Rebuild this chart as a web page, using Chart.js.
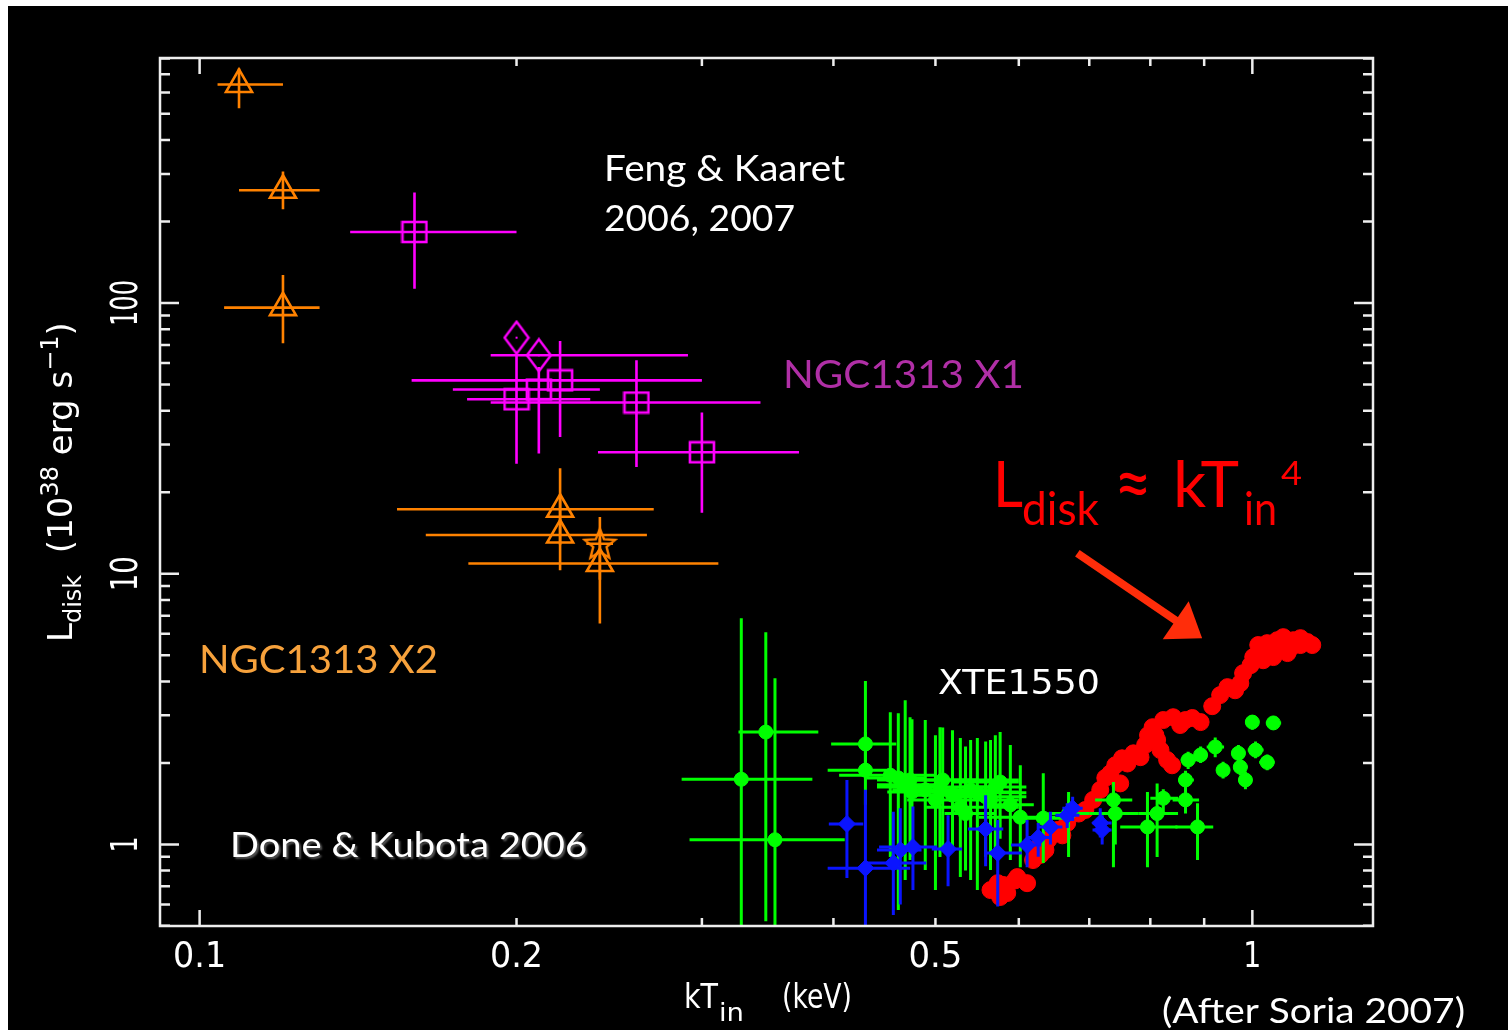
<!DOCTYPE html>
<html>
<head>
<meta charset="utf-8">
<script src="https://cdn.jsdelivr.net/npm/chart.js@4.4.1/dist/chart.umd.min.js"></script>
<style>
  html, body { margin: 0; padding: 0; background: #fff; }
  canvas { display: block; }
</style>
</head>
<body>
<canvas id="diskChart" width="1508" height="1030"></canvas>
<script>
// ---- NGC1313 X2 (orange triangles) : kT_in (keV), L_disk (1e38 erg/s) ----
const x2Kt   = [0.109, 0.120, 0.120, 0.220, 0.220, 0.240];
const x2KtLo = [0.104, 0.109, 0.1055, 0.154, 0.164, 0.180];
const x2KtHi = [0.120, 0.130, 0.130, 0.270, 0.266, 0.311];
const x2L    = [642, 261, 96.2, 17.3, 13.9, 10.9];
const x2LLo  = [524, 222, 71, 12.8, 10.3, 6.55];
const x2LHi  = [736, 306, 127, 24.5, 19.5, 13.5];
// the one star point
const x2sKt = [0.240], x2sKtLo = [0.233], x2sKtHi = [0.247];
const x2sL = [12.9], x2sLLo = [9.5], x2sLHi = [16.2];

// ---- NGC1313 X1 (magenta squares + diamonds) ----
const x1Kt   = [0.160, 0.200, 0.210, 0.220, 0.260, 0.300];
const x1KtLo = [0.139, 0.1795, 0.174, 0.159, 0.189, 0.239];
const x1KtHi = [0.200, 0.235, 0.240, 0.300, 0.341, 0.371];
const x1L    = [183, 44.1, 47.9, 51.8, 42.9, 28.1];
const x1LLo  = [113, 25.5, 27.8, 32.0, 24.8, 16.8];
const x1LHi  = [256, 65.0, 58.0, 72.4, 61.4, 39.4];
const x1dKt = [0.200, 0.210], x1dKtLo = [0.200, 0.189], x1dKtHi = [0.200, 0.291];
const x1dL = [74.5, 64.1];

// ---- XTE1550 (green) ----
const gKt   = [0.327,0.345,0.352,0.429,0.429,0.453,0.461,0.473,0.475,0.505,0.508,0.528,0.534,0.548,0.558,0.570,0.576,0.602,0.633,0.669,0.738,0.741,0.795,0.812,0.823,0.864,0.887,0.864,0.869,0.893,0.922,0.938,0.970,0.974,0.985,1.007,1.033,1.000,1.047,0.468,0.489,0.500,0.519,0.540,0.564,0.589];
const gKtLo = [0.287,0.325,0.292,0.398,0.395,0.405,0.430,0.440,0.450,0.440,0.470,0.490,0.510,0.500,0.520,0.530,0.520,0.550,0.600,0.640,0.709,0.700,0.749,0.780,0.800,0.840,0.845,0.850,0.855,0.880,0.905,0.925,0.955,0.960,0.970,0.990,1.015,0.985,1.030,0.440,0.455,0.470,0.480,0.505,0.525,0.555];
const gKtHi = [0.382,0.387,0.410,0.459,0.456,0.500,0.490,0.550,0.600,0.580,0.600,0.600,0.570,0.610,0.610,0.610,0.600,0.650,0.670,0.700,0.769,0.780,0.849,0.850,0.850,0.890,0.918,0.880,0.885,0.905,0.940,0.952,0.985,0.990,1.000,1.025,1.050,1.015,1.065,0.500,0.525,0.535,0.560,0.580,0.600,0.620];
const gL    = [1.74,2.60,1.04,2.35,1.88,1.80,1.76,1.73,1.56,1.63,1.73,1.37,1.30,1.55,1.50,1.63,1.70,1.26,1.25,1.30,1.46,1.30,1.16,1.30,1.48,1.46,1.16,1.73,2.05,2.14,2.29,1.88,2.17,1.93,1.73,2.23,2.01,2.83,2.81,1.66,1.59,1.46,1.52,1.59,1.46,1.40];
const gLLo  = [0.40,0.52,0.40,1.90,1.40,0.898,0.572,0.875,0.90,0.898,0.95,0.757,0.80,0.678,0.90,0.953,1.05,0.824,0.853,0.898,0.824,1.00,0.824,0.898,1.30,1.30,0.875,1.60,1.90,2.00,2.10,1.75,2.00,1.80,1.60,2.08,1.88,2.65,2.65,0.738,0.804,0.678,0.953,0.738,0.804,0.875];
const gLHi  = [6.85,6.08,4.11,4.01,2.60,3.08,3.05,2.95,2.90,2.71,2.70,2.47,2.30,2.47,2.40,2.53,2.60,1.96,1.83,1.56,1.70,1.45,1.56,1.68,1.60,1.73,1.42,1.87,2.20,2.30,2.48,2.02,2.33,2.06,1.86,2.40,2.15,3.00,2.98,3.41,2.88,2.53,2.64,2.43,2.43,2.33];

// ---- XTE1550 (blue) ----
const bKt   = [0.412,0.429,0.456,0.463,0.476,0.514,0.558,0.573,0.611,0.626,0.643,0.667,0.675,0.717,0.720];
const bKtLo = [0.396,0.395,0.430,0.440,0.442,0.496,0.537,0.556,0.590,0.610,0.625,0.650,0.660,0.705,0.705];
const bKtHi = [0.427,0.473,0.490,0.485,0.502,0.530,0.580,0.604,0.630,0.642,0.660,0.685,0.690,0.735,0.735];
const bL    = [1.19,0.817,0.853,0.953,0.977,0.961,1.14,0.929,0.994,1.06,1.16,1.28,1.36,1.20,1.13];
const bLLo  = [0.751,0.45,0.548,0.60,0.678,0.70,0.83,0.59,0.824,0.90,1.00,1.15,1.22,1.06,1.00];
const bLHi  = [1.73,1.59,1.32,1.36,1.38,1.28,1.52,1.23,1.23,1.20,1.32,1.42,1.50,1.36,1.28];

// ---- XTE1550 (red) ----
const rKt = [0.564,0.573,0.576,0.585,0.598,0.595,0.611,0.619,0.625,0.629,0.640,0.653,0.667,0.684,0.694,0.706,0.717,0.725,0.733,0.741,0.749,0.752,0.761,0.771,0.783,0.791,0.796,0.804,0.812,0.818,0.830,0.839,0.823,0.841,0.864,0.893,0.916,0.947,0.963,0.974,0.980,0.996,1.002,1.018,1.024,1.033,1.047,1.056,1.070,1.080,1.094,1.111,1.128,1.140,1.013,1.087,1.040,1.111,1.063,0.854,0.877,0.809,0.932,0.580,0.636,0.660];
const rL  = [0.678,0.719,0.639,0.661,0.757,0.736,0.719,0.875,0.969,0.914,1.04,1.13,1.20,1.30,1.34,1.46,1.59,1.76,1.83,1.96,1.68,2.08,1.99,2.17,2.10,2.33,2.53,2.71,2.43,2.23,2.05,1.96,2.88,2.95,2.88,2.83,3.24,3.81,3.71,3.94,4.29,4.59,4.92,5.22,4.79,5.54,4.92,5.68,5.83,5.09,5.68,5.78,5.59,5.45,5.45,5.31,5.13,5.45,5.22,2.76,2.93,2.53,3.56,0.708,0.953,1.08];

// axes
const xTickVals = [0.1, 0.2, 0.5, 1];
const xTickLabels = ['0.1', '0.2', '0.5', '1'];
const yTickVals = [1, 10, 100];
const yTickLabels = ['1', '10', '100'];

// arrow (kT, L) from -> to
const arrowKt = [0.682, 0.896];
const arrowL = [11.9, 5.77];

const ORANGE = '#ff8200', MAGENTA = '#ff00ff', GREEN = '#00ff00', BLUE = '#0a14ff', RED = '#ff0000';

function pts(kt, lo, hi, L, Llo, Lhi) {
    return kt.map((v, i) => ({ x: v, y: L[i], xl: lo ? lo[i] : v, xh: hi ? hi[i] : v, yl: Llo ? Llo[i] : L[i], yh: Lhi ? Lhi[i] : L[i] }));
}

function marker(w, h, draw) {
    const c = document.createElement('canvas');
    c.width = w; c.height = h;
    const g = c.getContext('2d');
    draw(g, w, h);
    return c;
}

const squareImg = marker(28, 24, (g, w, h) => {
    g.strokeStyle = MAGENTA; g.lineWidth = 2.6;
    g.strokeRect(2, 2, w - 4, h - 4);
});
const diamondImg = marker(28, 36, (g, w, h) => {
    g.strokeStyle = MAGENTA; g.lineWidth = 2.4;
    g.beginPath(); g.moveTo(w / 2, 2); g.lineTo(w - 2, h / 2); g.lineTo(w / 2, h - 2); g.lineTo(2, h / 2); g.closePath(); g.stroke();
    g.fillStyle = MAGENTA; g.fillRect(w / 2 - 1, h / 2 - 1, 2, 2);
});
const starImg = marker(36, 34, (g, w, h) => {
    g.strokeStyle = ORANGE; g.lineWidth = 2.4;
    g.beginPath();
    for (let i = 0; i < 10; i++) {
        const r = i % 2 ? 7 : 16;
        const a = -Math.PI / 2 + i * Math.PI / 5;
        const px = w / 2 + r * Math.cos(a), py = h / 2 + 1 + r * Math.sin(a);
        if (i === 0) g.moveTo(px, py); else g.lineTo(px, py);
    }
    g.closePath(); g.stroke();
});

const errorBars = {
    id: 'errorBars',
    beforeDatasetDraw(chart, args) {
        const ds = chart.data.datasets[args.index];
        if (!ds.errWidth) return;
        const { ctx, chartArea: a, scales: { x, y } } = chart;
        ctx.save();
        ctx.beginPath(); ctx.rect(a.left, a.top, a.right - a.left, a.bottom - a.top); ctx.clip();
        ctx.strokeStyle = ds.errColor; ctx.lineWidth = ds.errWidth;
        ds.data.forEach(p => {
            const px = x.getPixelForValue(p.x), py = y.getPixelForValue(p.y);
            ctx.beginPath();
            if (p.xl !== p.xh) { ctx.moveTo(x.getPixelForValue(p.xl), py); ctx.lineTo(x.getPixelForValue(p.xh), py); }
            if (p.yl !== p.yh) { ctx.moveTo(px, y.getPixelForValue(p.yl)); ctx.lineTo(px, y.getPixelForValue(p.yh)); }
            ctx.stroke();
        });
        ctx.restore();
    }
};

function fitText(ctx, s, x, y, size, family, width, color, rot) {
    ctx.save();
    ctx.font = size + 'px ' + family;
    const w = ctx.measureText(s).width;
    ctx.translate(x, y);
    if (rot) ctx.rotate(rot);
    ctx.scale(width ? width / w : 1, 1);
    ctx.fillStyle = color;
    ctx.textBaseline = 'alphabetic';
    ctx.textAlign = 'left';
    ctx.fillText(s, 0, 0);
    ctx.restore();
    return width || w;
}

const PG = '"DejaVu Sans"';
const CAL = 'Lato, "Open Sans", sans-serif';

const frameAndText = {
    id: 'frameAndText',
    beforeDraw(chart) {
        const ctx = chart.ctx;
        ctx.save();
        ctx.fillStyle = '#ffffff'; ctx.fillRect(0, 0, chart.width, chart.height);
        ctx.fillStyle = '#000000'; ctx.fillRect(8, 6, chart.width - 8, chart.height - 6);
        ctx.restore();
    },
    afterDraw(chart) {
        const { ctx, chartArea: a, scales: { x, y } } = chart;
        ctx.save();
        // frame
        ctx.strokeStyle = '#eeeeee'; ctx.lineWidth = 2.5;
        ctx.strokeRect(a.left, a.top, a.right - a.left, a.bottom - a.top);
        // x ticks
        ctx.beginPath();
        for (let d = 0.1; d <= 1; d *= 10) {
            for (let m = 1; m <= 9; m++) {
                const v = m * d;
                if (v < x.min || v > x.max) continue;
                const p = x.getPixelForValue(v), len = m === 1 ? 16 : 8;
                ctx.moveTo(p, a.bottom); ctx.lineTo(p, a.bottom - len);
                ctx.moveTo(p, a.top); ctx.lineTo(p, a.top + len);
            }
        }
        // y ticks
        for (let d = 0.1; d <= 100; d *= 10) {
            for (let m = 1; m <= 9; m++) {
                const v = m * d;
                if (v < y.min || v >= y.max) continue;
                const p = y.getPixelForValue(v), len = m === 1 ? 19 : 10;
                ctx.moveTo(a.left, p); ctx.lineTo(a.left + len, p);
                ctx.moveTo(a.right, p); ctx.lineTo(a.right - len, p);
            }
        }
        ctx.stroke();

        // tick labels
        const xw = { '0.1': 53, '0.2': 53, '0.5': 54, '1': 18 };
        xTickVals.forEach((v, i) => {
            const s = xTickLabels[i], w = xw[s];
            fitText(ctx, s, x.getPixelForValue(v) - w / 2, 967, 36, PG, w, '#ffffff');
        });
        const yw = { '1': 16, '10': 35, '100': 46 };
        yTickVals.forEach((v, i) => {
            const s = yTickLabels[i], w = yw[s];
            fitText(ctx, s, 137, y.getPixelForValue(v) + w / 2, 37, PG, w, '#ffffff', -Math.PI / 2);
        });

        // axis titles
        fitText(ctx, 'kT', 684, 1008, 34, PG, 34, '#ffffff');
        fitText(ctx, 'in', 719, 1021, 24, PG, 25, '#ffffff');
        fitText(ctx, '(keV)', 782, 1008, 34, PG, 70, '#ffffff');
        const R = -Math.PI / 2;
        let py = 642;
        const seq = [['L', 0, 34], ['disk', 9, 24], ['  (10', 0, 34], ['38', -14, 24], [' erg s', 0, 34], ['\u22121', -14, 24], [')', 0, 34]];
        seq.forEach(([s, dx, sz]) => {
            ctx.font = sz + 'px ' + PG;
            const w = ctx.measureText(s).width;
            fitText(ctx, s, 72 + dx, py, sz, PG, w, '#ffffff', R);
            py -= w;
        });

        // annotations
        fitText(ctx, 'XTE1550', 938, 694, 34, PG, 162, '#ffffff');
        fitText(ctx, 'Feng & Kaaret', 604, 181, 36, CAL, 241, '#ffffff');
        fitText(ctx, '2006, 2007', 604, 231, 36, CAL, 191, '#ffffff');
        fitText(ctx, 'NGC1313 X1', 783, 388, 39, CAL, 241, '#b02fa6');
        fitText(ctx, 'NGC1313 X2', 199, 673, 39, CAL, 239, '#f7a23c');
        fitText(ctx, '(After Soria 2007)', 1162, 1023, 35, CAL, 303, '#ffffff');
        ctx.save();
        ctx.shadowColor = 'rgba(90,90,90,0.95)'; ctx.shadowOffsetX = 2; ctx.shadowOffsetY = 2; ctx.shadowBlur = 2;
        fitText(ctx, 'Done & Kubota 2006', 230, 857, 34, CAL, 357, '#ffffff');
        ctx.restore();

        // L_disk ~ kT_in^4
        fitText(ctx, 'L', 993, 507, 64, CAL, 30, RED);
        fitText(ctx, 'disk', 1022, 525, 47, CAL, 77, RED);
        fitText(ctx, '\u2248', 1114, 510, 78, CAL, 38, RED);
        fitText(ctx, 'kT', 1173, 507, 64, CAL, 66, RED);
        fitText(ctx, 'in', 1244, 525, 47, CAL, 33, RED);
        fitText(ctx, '4', 1281, 485, 33, CAL, 21, RED);

        // arrow
        const x0 = x.getPixelForValue(arrowKt[0]), y0 = y.getPixelForValue(arrowL[0]);
        const x1 = x.getPixelForValue(arrowKt[1]), y1 = y.getPixelForValue(arrowL[1]);
        const len = Math.hypot(x1 - x0, y1 - y0), ux = (x1 - x0) / len, uy = (y1 - y0) / len;
        const bx = x1 - ux * 32, by = y1 - uy * 32;
        ctx.strokeStyle = '#ff2d0a'; ctx.fillStyle = '#ff2d0a'; ctx.lineWidth = 8;
        ctx.beginPath(); ctx.moveTo(x0, y0); ctx.lineTo(bx + ux * 2, by + uy * 2); ctx.stroke();
        ctx.beginPath();
        ctx.moveTo(x1, y1);
        ctx.lineTo(bx - uy * 23, by + ux * 23);
        ctx.lineTo(bx + uy * 23, by - ux * 23);
        ctx.closePath(); ctx.fill();
        ctx.restore();
    }
};

new Chart(document.getElementById('diskChart'), {
    type: 'scatter',
    data: {
        datasets: [
            { label: 'XTE1550 blue', data: pts(bKt, bKtLo, bKtHi, bL, bLLo, bLHi), pointStyle: 'rectRot', pointRadius: 8.5,
              pointBackgroundColor: BLUE, pointBorderColor: BLUE, pointBorderWidth: 1, errColor: BLUE, errWidth: 3 },
            { label: 'XTE1550 green', data: pts(gKt, gKtLo, gKtHi, gL, gLLo, gLHi), pointStyle: 'circle', pointRadius: 7,
              pointBackgroundColor: GREEN, pointBorderColor: GREEN, pointBorderWidth: 1, errColor: GREEN, errWidth: 3 },
            { label: 'XTE1550 red', data: pts(rKt, null, null, rL, null, null), pointStyle: 'circle', pointRadius: 8.5,
              pointBackgroundColor: RED, pointBorderColor: RED, pointBorderWidth: 1 },
            { label: 'NGC1313 X1 squares', data: pts(x1Kt, x1KtLo, x1KtHi, x1L, x1LLo, x1LHi), pointStyle: squareImg, pointRadius: 10,
              errColor: MAGENTA, errWidth: 2.6 },
            { label: 'NGC1313 X1 diamonds', data: pts(x1dKt, x1dKtLo, x1dKtHi, x1dL, null, null), pointStyle: diamondImg, pointRadius: 10,
              errColor: MAGENTA, errWidth: 2.6 },
            { label: 'NGC1313 X2', data: pts(x2Kt, x2KtLo, x2KtHi, x2L, x2LLo, x2LHi), pointStyle: 'triangle', pointRadius: 15,
              pointBackgroundColor: 'rgba(0,0,0,0)', pointBorderColor: ORANGE, pointBorderWidth: 2.6, errColor: ORANGE, errWidth: 2.6 },
            { label: 'NGC1313 X2 star', data: pts(x2sKt, x2sKtLo, x2sKtHi, x2sL, x2sLLo, x2sLHi), pointStyle: starImg, pointRadius: 10,
              errColor: ORANGE, errWidth: 2.6 }
        ]
    },
    options: {
        responsive: false,
        animation: false,
        events: [],
        layout: { padding: { left: 160, right: 135, top: 58, bottom: 104 } },
        plugins: { legend: { display: false }, tooltip: { enabled: false } },
        scales: {
            x: { type: 'logarithmic', min: 0.0917, max: 1.302, display: false },
            y: { type: 'logarithmic', min: 0.4994, max: 804, display: false }
        }
    },
    plugins: [errorBars, frameAndText]
});
</script>
</body>
</html>
